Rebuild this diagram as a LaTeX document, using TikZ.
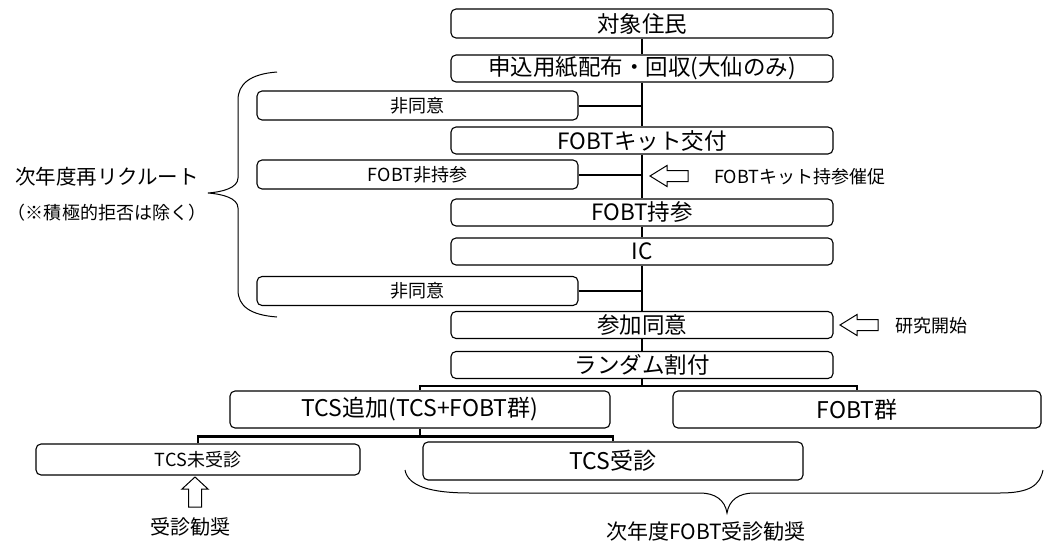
\documentclass[tikz,border=0pt]{standalone}
\usepackage{fontspec}
\setmainfont{Noto Sans CJK JP}
\begin{document}
\begin{tikzpicture}[x=1pt,y=-1pt,
  mainbox/.style={draw, rounded corners=5pt, line width=1.1pt, fill=white, inner sep=0pt,
    minimum width=382pt, minimum height=27pt, font=\fontsize{22.5}{22.5}\selectfont},
  sidebox/.style={draw, rounded corners=5pt, line width=1.1pt, fill=white, inner sep=0pt,
    minimum width=321pt, minimum height=29pt, font=\fontsize{18}{18}\selectfont},
  bigbox/.style={draw, rounded corners=5pt, line width=1.1pt, fill=white, inner sep=0pt,
    minimum height=37pt, font=\fontsize{23}{23}\selectfont},
  conn/.style={line width=2pt},
  branch/.style={line width=2.6pt},
  hollow/.style={draw, line width=1pt, fill=white},
  bracepath/.style={line width=1pt},
  lbl/.style={inner sep=0pt, font=\fontsize{18}{18}\selectfont}
]
\useasboundingbox (0,0) rectangle (1044,543);

% main column
\node[mainbox, minimum height=29pt] (b1) at (642,23.5) {対象住民};
\node[mainbox] (b2) at (642,68.5) {申込用紙配布・回収(大仙のみ)};
\node[sidebox] (n1) at (417.5,105.5) {非同意};
\node[mainbox] (b3) at (642,140.5) {FOBTキット交付};
\node[sidebox] (n2) at (417.5,174.5) {FOBT非持参};
\node[mainbox] (b4) at (642,212.5) {FOBT持参};
\node[mainbox] (b5) at (642,251.5) {IC};
\node[sidebox] (n3) at (417.5,291) {非同意};
\node[mainbox] (b6) at (642,325) {参加同意};
\node[mainbox] (b7) at (642,365) {ランダム割付};

% groups
\node[bigbox, minimum width=380pt] (t1) at (420,409.5) {TCS追加(TCS+FOBT群)};
\node[bigbox, minimum width=368pt] (t2) at (857,409.5) {FOBT群};
\node[bigbox, minimum width=324pt, minimum height=31pt, font=\fontsize{18}{18}\selectfont] (u1) at (198,459.5) {TCS未受診};
\node[bigbox, minimum width=380pt, minimum height=38pt] (u2) at (613,461) {TCS受診};

% vertical connectors
\draw[conn] (b1.south) -- (b2.north);
\draw[conn] (b2.south) -- (b3.north);
\draw[conn] (b3.south) -- (b4.north);
\draw[conn] (b4.south) -- (b5.north);
\draw[conn] (b5.south) -- (b6.north);
\draw[conn] (b6.south) -- (b7.north);
\draw[conn] (n1.east) -- (n1.east -| b2.south);
\draw[conn] (n2.east) -- (n2.east -| b3.south);
\draw[conn] (n3.east) -- (n3.east -| b5.south);

% branches
\draw[conn] (b7.south) -- ++(0,7) coordinate (br1);
\draw[branch] (t1.north) |- (br1) -| (t2.north);
\draw[conn] (t1.south) -- ++(0,8) coordinate (br2);
\draw[branch] (u1.north) |- (br2) -| (u2.north);

% hollow arrows
\draw[hollow] (650,176) -- (667,165.5) -- (667,170.5) -- (688,170.5) -- (688,181.5) -- (667,181.5) -- (667,186.5) -- cycle;
\node[lbl, anchor=west] (remind) at (714,177) {FOBTキット持参催促};
\draw[hollow] (840,325) -- (857,314.5) -- (857,319.5) -- (878,319.5) -- (878,330.5) -- (857,330.5) -- (857,335.5) -- cycle;
\node[lbl, anchor=west] (start) at (895,326) {研究開始};
\draw[hollow] (195,477) -- (208,489) -- (201.5,489) -- (201.5,507) -- (188.5,507) -- (188.5,489) -- (182,489) -- cycle;
\node[lbl, font=\fontsize{20}{20}\selectfont] (kan) at (190,527) {受診勧奨};

% left brace
\draw[bracepath] (277,72) .. controls (250,74) and (238,84) .. (238,100) -- (238,178)
  .. controls (238,188) and (222,192) .. (208,193)
  .. controls (222,194) and (238,198) .. (238,208) -- (238,290)
  .. controls (238,306) and (250,315) .. (277,317);
\node[lbl, font=\fontsize{20.5}{21}\selectfont] (rec) at (107,177) {次年度再リクルート};
\node[lbl, font=\fontsize{18}{18}\selectfont] (exc) at (107,213) {（※積極的拒否は除く）};

% bottom brace
\draw[bracepath] (405,470) .. controls (408,486) and (430,493) .. (470,493) -- (700,493)
  .. controls (715,493) and (725,500) .. (727,513)
  .. controls (729,500) and (739,493) .. (754,493) -- (1000,493)
  .. controls (1030,493) and (1040,485) .. (1043,470);
\node[lbl, font=\fontsize{21}{21}\selectfont] (next) at (706,531) {次年度FOBT受診勧奨};
\end{tikzpicture}
\end{document}
